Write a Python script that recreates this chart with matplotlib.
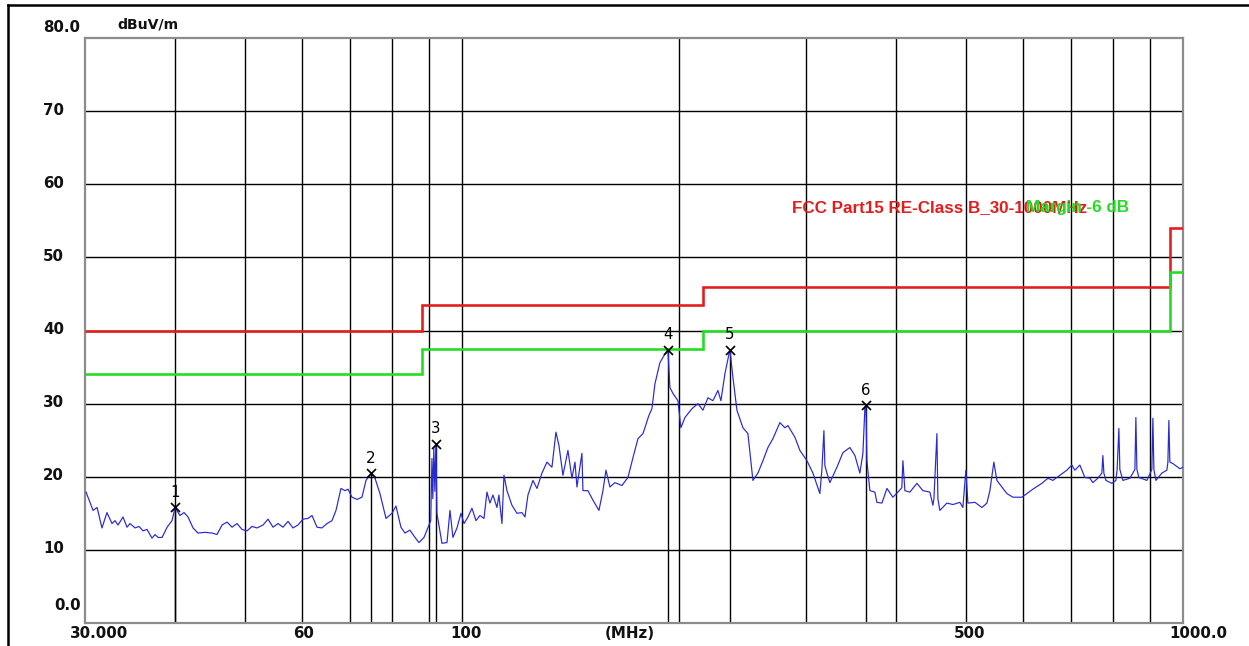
import matplotlib
matplotlib.use("Agg")
import matplotlib.pyplot as plt
from matplotlib.lines import Line2D

# measured trace (MHz, dBuV/m)
trace_freq = [30.1, 30.78, 31.18, 31.67, 32.18, 32.70, 33.02, 33.34, 33.87, 34.31, 34.64, 35.20,
              35.65, 36.11, 36.57, 37.16, 37.52, 37.88, 38.37, 38.99, 39.61, 40.00, 40.63, 41.16,
              41.69, 42.36, 43.04, 44.01, 45.00, 45.73, 46.47, 47.22, 47.98, 48.75, 49.53, 50.33,
              51.13, 51.96, 52.97, 53.82, 54.69, 55.57, 56.46, 57.37, 58.29, 59.23, 60.18, 61.15,
              61.94, 62.94, 63.94, 64.97, 66.02, 66.87, 67.94, 68.82, 69.48, 70.38, 71.51, 72.66,
              73.59, 74.77, 75.74, 76.95, 78.45, 79.96, 80.99, 82.28, 83.35, 84.68, 86.06, 87.16,
              88.57, 89.99, 90.5, 90.85, 91.1, 91.4, 91.7, 92.0, 92.3, 93.8, 95.32, 96.23,
              97.15, 98.41, 99.67, 100.64, 101.93, 103.23, 104.56, 105.90, 107.27, 108.30, 109.33, 110.39,
              111.81, 112.52, 113.61, 114.34, 115.44, 117.29, 119.19, 121.10, 122.27, 123.44, 125.43, 127.05,
              129.09, 131.17, 133.27, 134.99, 136.28, 138.04, 140.26, 142.06, 143.44, 144.36, 146.67, 147.14,
              149.51, 151.92, 154.86, 156.85, 158.37, 160.39, 162.98, 166.65, 169.89, 172.62, 175.40, 178.21,
              179.36, 181.66, 183.40, 185.18, 188.14, 191.19, 193.02, 194.25, 196.14, 199.29, 201.19, 203.80,
              208.39, 212.43, 215.85, 219.33, 222.85, 226.44, 228.61, 231.57, 235.28, 237.55, 240.61, 245.26,
              249.21, 253.22, 257.30, 261.44, 265.65, 269.91, 275.98, 280.47, 283.16, 289.57, 294.19, 300.88,
              306.69, 313.58, 315.62, 317.66, 318.68, 320.72, 323.78, 331.13, 337.53, 345.14, 350.72, 356.33,
              359.78, 362.1, 363.3, 364.4, 367.9, 373.8, 376.2, 382.3, 388.5, 395.9, 402.3, 407.4,
              408.8, 411.4, 418.0, 427.5, 435.8, 445.6, 449.9, 451.4, 455.7, 457.1, 460.0, 470.5,
              479.6, 490.4, 495.1, 499.9, 503.1, 514.5, 526.1, 534.6, 539.7, 546.6, 551.9, 560.8,
              569.8, 580.9, 597.7, 607.4, 619.1, 637.2, 649.6, 659.9, 674.8, 690.2, 701.2, 708.0,
              719.3, 731.0, 742.7, 749.9, 761.9, 771.7, 774.2, 776.7, 781.7, 796.8, 807.1, 810.3,
              814.8, 817.4, 825.3, 843.9, 857.6, 860.3, 863.1, 868.6, 891.1, 905.3, 908.3, 911.2,
              917.0, 934.7, 949.8, 952.9, 955.9, 958.9, 968.2, 990.0, 1000.0]
trace_level = [17.9, 15.4, 15.8, 13.0, 15.1, 13.6, 14.0, 13.4, 14.5, 13.1, 13.6, 13.0,
               13.2, 12.6, 12.8, 11.6, 12.1, 11.7, 11.7, 13.1, 14.0, 15.8, 14.7, 15.1,
               14.5, 13.0, 12.3, 12.4, 12.3, 12.1, 13.4, 13.8, 13.1, 13.6, 12.8, 12.6,
               13.2, 13.0, 13.4, 14.2, 13.1, 13.6, 13.1, 13.9, 13.0, 13.4, 14.2, 14.3,
               14.7, 13.1, 13.0, 13.6, 14.0, 15.4, 18.4, 18.1, 18.3, 17.2, 16.9, 17.2,
               19.5, 20.5, 19.8, 17.7, 14.3, 15.0, 16.0, 13.1, 12.3, 12.7, 11.7, 11.0,
               11.7, 13.4, 14.0, 22.5, 17.0, 24.0, 18.0, 24.5, 15.0, 10.9, 11.0, 15.4,
               11.7, 13.0, 15.0, 13.6, 14.5, 15.7, 14.0, 14.7, 14.3, 17.9, 16.4, 17.5,
               15.8, 17.5, 13.6, 20.2, 18.1, 16.1, 15.0, 15.1, 14.5, 17.5, 19.5, 18.4,
               20.5, 22.0, 21.3, 26.1, 24.3, 20.2, 23.6, 19.8, 22.0, 18.6, 23.2, 18.1,
               18.1, 16.8, 15.4, 18.1, 20.9, 18.6, 19.2, 18.8, 19.9, 22.6, 25.2, 25.9,
               26.7, 28.4, 29.3, 32.7, 35.6, 36.8, 37.4, 32.2, 31.4, 30.4, 26.7, 28.1,
               29.3, 30.0, 29.1, 30.8, 30.4, 31.8, 30.4, 34.1, 37.4, 33.6, 29.1, 26.7,
               25.9, 19.5, 20.5, 22.2, 24.0, 25.2, 27.4, 26.7, 27.0, 25.4, 23.6, 22.2,
               20.5, 17.7, 21.0, 26.3, 21.5, 20.5, 19.2, 21.3, 23.3, 24.0, 22.9, 20.5,
               23.2, 29.5, 29.8, 22.2, 18.1, 17.9, 16.5, 16.4, 18.4, 17.2, 17.9, 18.5,
               22.2, 18.1, 17.9, 19.1, 18.1, 17.9, 16.1, 17.0, 25.9, 17.0, 15.4, 16.4,
               16.2, 16.5, 15.8, 20.9, 16.4, 16.5, 15.8, 16.4, 18.1, 22.0, 19.5, 18.6,
               17.7, 17.2, 17.2, 17.7, 18.3, 19.1, 19.8, 19.5, 20.2, 20.9, 21.6, 20.9,
               21.6, 19.9, 19.8, 19.2, 19.8, 20.5, 22.9, 20.5, 19.5, 19.1, 19.5, 21.0,
               26.6, 21.0, 19.5, 19.8, 21.0, 28.1, 21.0, 19.9, 19.5, 21.0, 28.0, 21.0,
               19.5, 20.5, 20.9, 22.0, 27.7, 22.0, 21.8, 21.1, 21.3]

# FCC class B limit and -6 dB margin line
limit_edges = [30, 88, 216, 960, 1000]
limit_levels = [40.0, 43.5, 46.0, 54.0]
margin_db = 6.0

# peak markers
marker_freq = [40.0, 74.77, 92.0, 193.02, 235.28, 363.3]
marker_level = [15.8, 20.5, 24.5, 37.4, 37.4, 29.8]
marker_names = ["1", "2", "3", "4", "5", "6"]

grid_freq = [40, 50, 60, 70, 80, 90, 100, 200, 300, 400, 500, 600, 700, 800, 900]
y_ticks = [0, 10, 20, 30, 40, 50, 60, 70, 80]
y_labels = ["0.0", "10", "20", "30", "40", "50", "60", "70", "80.0"]
x_label_freq = [30, 60, 100, 500, 1000]
x_labels = ["30.000", "60", "100", "500", "1000.0"]

W, H = 1249, 646
fig = plt.figure(figsize=(W / 72, H / 72), dpi=72)
ax = fig.add_axes([85 / W, 23 / H, 1098 / W, 585 / H])
ax.set_xscale("log")
ax.set_xlim(30, 1000)
ax.set_ylim(0, 80)

ax.set_xticks(grid_freq)
ax.set_xticks([], minor=True)
ax.set_yticks(y_ticks[1:-1])
ax.tick_params(length=0, labelbottom=False, labelleft=False, which="both")
ax.grid(True, color="black", lw=1.4)
for s in ax.spines.values():
    s.set_color("#8c8c8c")
    s.set_linewidth(2.2)

# marker drop lines
ax.vlines(marker_freq, 0, marker_level, color="black", lw=1.4, zorder=2)

# limits
upper = limit_levels
lower = [v - margin_db for v in limit_levels]
ax.stairs(upper, limit_edges, color="#e41c1c", lw=2.6, baseline=None, zorder=3)
ax.stairs(lower, limit_edges, color="#22dd22", lw=2.6, baseline=None, zorder=3)

ax.plot(trace_freq, trace_level, color="#2a2ad2", lw=1.2, zorder=4)

ax.plot(marker_freq, marker_level, "x", color="black", ms=9, mew=1.7, zorder=5)
for f, v, n in zip(marker_freq, marker_level, marker_names):
    ax.annotate(n, (f, v), xytext=(0, 15), textcoords="offset points",
                ha="center", va="center", fontsize=15, color="black", zorder=6)

# axis texts
lab = dict(fontsize=15, fontweight="bold", color="#111111", family="DejaVu Sans")
for v, t in zip(y_ticks, y_labels):
    if t == "80.0":
        ax.annotate(t, (0, v), xycoords=("axes fraction", "data"), xytext=(-42, 10),
                    textcoords="offset points", ha="left", va="center", **lab)
    elif t == "0.0":
        ax.annotate(t, (0, v), xycoords=("axes fraction", "data"), xytext=(-4, 17),
                    textcoords="offset points", ha="right", va="center", **lab)
    else:
        ax.annotate(t, (0, v), xycoords=("axes fraction", "data"), xytext=(-42, 1),
                    textcoords="offset points", ha="left", va="center", **lab)

x_off = [14, 2, 4, 4, 15]
for f, t, dx in zip(x_label_freq, x_labels, x_off):
    ax.annotate(t, (f, 0), xycoords=("data", "axes fraction"), xytext=(dx, -10),
                textcoords="offset points", ha="center", va="center", **lab)
ax.annotate("(MHz)", (0.496, 0), xycoords="axes fraction", xytext=(0, -10),
            textcoords="offset points", ha="center", va="center", **lab)
ax.annotate("dBuV/m", (0, 1), xycoords="axes fraction", xytext=(32, 14),
            textcoords="offset points", ha="left", va="center",
            fontsize=14, fontweight="bold", color="#111111")

# legend labels
ax.text(792 / W, 1 - 208 / H, "FCC Part15 RE-Class B_30-1000MHz", transform=fig.transFigure,
        ha="left", va="center", fontsize=17, fontweight="bold", color="#e41c1c",
        family="Liberation Sans", zorder=6)
ax.text(1129 / W, 1 - 208 / H, "Margin -6 dB", transform=fig.transFigure,
        ha="right", va="center", fontsize=17, fontweight="bold", color="#22dd22",
        family="Liberation Sans", zorder=7)

# outer page border
fig.add_artist(Line2D([8 / W, 1], [1 - 5 / H, 1 - 5 / H], color="black", lw=2.5))
fig.add_artist(Line2D([8 / W, 8 / W], [0, 1 - 5 / H], color="black", lw=2.5))

fig.savefig("out.png", dpi=72, facecolor="white")
